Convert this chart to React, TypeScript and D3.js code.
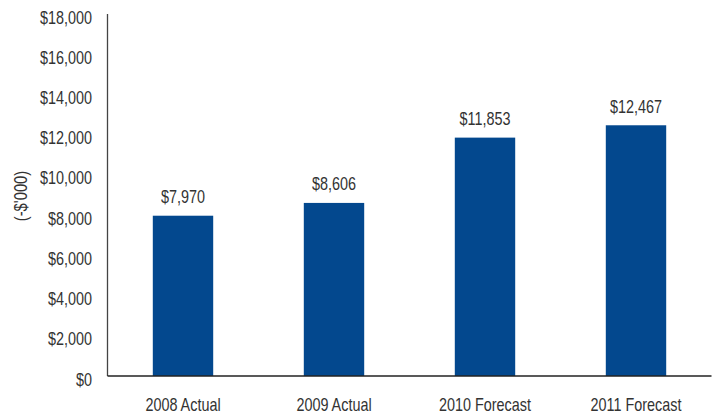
import React from "react";
import * as d3 from "d3";

const categories = ["2008 Actual", "2009 Actual", "2010 Forecast", "2011 Forecast"];
const values = [7970, 8606, 11853, 12467];
const yTicks = [0, 2000, 4000, 6000, 8000, 10000, 12000, 14000, 16000, 18000];

const W = 717;
const H = 414;
const FONT = "'Liberation Sans', Arial, sans-serif";
const SX = 0.8;
const FS = 18;

function NText({ x, y, anchor, children, size = FS }: { x: number; y: number; anchor: string; children: React.ReactNode; size?: number }) {
  return (
    <text transform={`translate(${x},${y}) scale(${SX},1)`} textAnchor={anchor} fontSize={size} fill="#333">
      {children}
    </text>
  );
}

export default function App() {
  const left = 107.5;
  const right = 711.5;
  const top = 14;
  const bottom = 376;
  const x = d3.scaleBand<string>().domain(categories).range([left, right]).paddingInner(0.6).paddingOuter(0.3);
  const y = d3.scaleLinear().domain([0, 18000]).range([bottom, top]);
  const fmt = (v: number) => "$" + d3.format(",")(v);
  return (
    <svg width={W} height={H} style={{ position: "absolute", left: 0, top: 0 }} fontFamily={FONT}>
      <rect width={W} height={H} fill="#fff" />
      {categories.map((c, i) => (
        <g key={c}>
          <rect x={x(c)} y={y(values[i])} width={x.bandwidth()} height={bottom - y(values[i])} fill="#03488e" />
          <NText x={x(c)! + x.bandwidth() / 2} y={y(values[i]) - 12.5} anchor="middle">
            {fmt(values[i])}
          </NText>
          <NText x={x(c)! + x.bandwidth() / 2} y={410.5} anchor="middle">
            {c}
          </NText>
        </g>
      ))}
      {yTicks.map((t) => (
        <NText key={t} x={92} y={y(t) + 9.5} anchor="end">
          {fmt(t)}
        </NText>
      ))}
      <line x1={left} x2={left} y1={top} y2={bottom} stroke="#444" strokeWidth={1.3} />
      <line x1={left} x2={right} y1={bottom} y2={bottom} stroke="#222" strokeWidth={1.3} />
      <text transform={`translate(26.5,196) rotate(-90) scale(${SX},1)`} textAnchor="middle" fontSize={18.5} fill="#333">
        (-$'000)
      </text>
    </svg>
  );
}
